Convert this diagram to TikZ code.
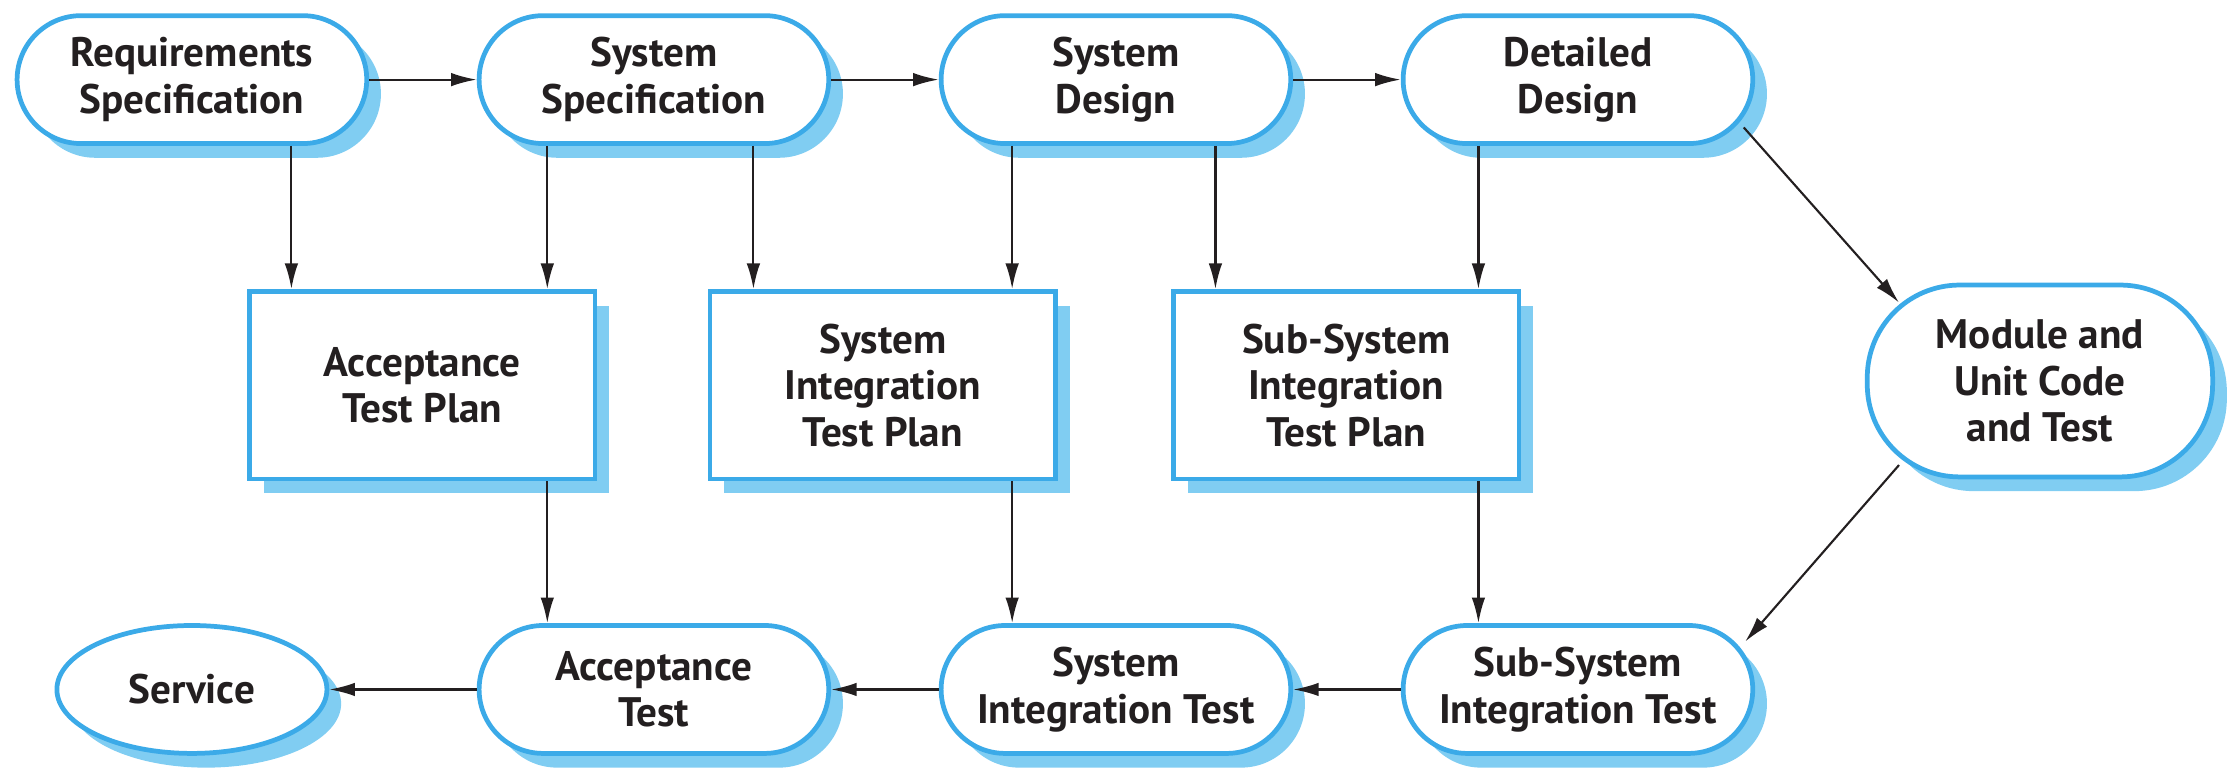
\documentclass[tikz,border=0pt]{standalone}
\usepackage{fontspec}
\setmainfont{PT Sans}
\usetikzlibrary{shadows,arrows.meta,calc,shapes.geometric}
\definecolor{bord}{RGB}{59,170,232}
\definecolor{shad}{RGB}{128,205,242}
\definecolor{txt}{RGB}{35,31,32}
\begin{document}
\begin{tikzpicture}[x=0.02cm,y=-0.02cm,
 base/.style={draw=bord, line width=1.9pt, fill=white, text=txt,
   font=\fontsize{16.5}{18.6}\selectfont\bfseries, align=center, inner sep=0pt,
   drop shadow={shadow xshift=0.2cm, shadow yshift=-0.2cm, fill=shad, opacity=1}},
 pill/.style={base, rectangle, rounded corners=0.9cm, minimum width=4.92cm, minimum height=1.8cm},
 modpill/.style={base, rectangle, rounded corners=1.3cm, minimum width=4.86cm, minimum height=2.7cm},
 planbox/.style={base, rectangle, minimum width=4.86cm, minimum height=2.64cm},
 oval/.style={base, ellipse, minimum width=3.8cm, minimum height=1.8cm},
 arr/.style={draw=txt, line width=0.85pt, -{Latex[length=0.36cm,width=0.19cm]}}]
\useasboundingbox (0,0) rectangle (1568,541);

\node[pill] (req) at (135,56) {Requirements\\Specification};
\node[pill] (ss) at (460,56) {System\\Specification};
\node[pill] (sd) at (785,56) {System\\Design};
\node[pill] (dd) at (1110,56) {Detailed\\Design};
\node[modpill] (mod) at (1435,268) {Module and\\Unit Code\\and Test};

\node[planbox] (ap) at (297,271) {Acceptance\\Test Plan};
\node[planbox] (sip) at (621,271) {System\\Integration\\Test Plan};
\node[planbox] (ssip) at (947,271) {Sub-System\\Integration\\Test Plan};

\node[oval] (serv) at (135,485) {Service};
\node[pill] (at) at (460,485) {Acceptance\\Test};
\node[pill] (sit) at (785,485) {System\\Integration Test};
\node[pill] (ssit) at (1110,485) {Sub-System\\Integration Test};

% top row
\draw[arr] (req.east) -- (ss.west);
\draw[arr] (ss.east) -- (sd.west);
\draw[arr] (sd.east) -- (dd.west);

% down to plans
\draw[arr] (req.south -| 205,0) -- (ap.north -| 205,0);
\draw[arr] (ss.south -| 385,0) -- (ap.north -| 385,0);
\draw[arr] (ss.south -| 530,0) -- (sip.north -| 530,0);
\draw[arr] (sd.south -| 712,0) -- (sip.north -| 712,0);
\draw[arr] (sd.south -| 855,0) -- (ssip.north -| 855,0);
\draw[arr] (dd.south -| 1040,0) -- (ssip.north -| 1040,0);

% plans to tests
\draw[arr] (ap.south -| 385,0) -- (at.north -| 385,0);
\draw[arr] (sip.south -| 712,0) -- (sit.north -| 712,0);
\draw[arr] (ssip.south -| 1040,0) -- (ssit.north -| 1040,0);

% diagonals
\draw[arr] ($(dd.south east)+(-8,-13)$) -- ($(mod.north west)+(24,14)$);
\draw[arr] ($(mod.south west)+(24,-10)$) -- ($(ssit.north east)+(-7,13)$);

% bottom row
\draw[arr] (ssit.west) -- (sit.east);
\draw[arr] (sit.west) -- (at.east);
\draw[arr] (at.west) -- (serv.east);
\end{tikzpicture}
\end{document}
